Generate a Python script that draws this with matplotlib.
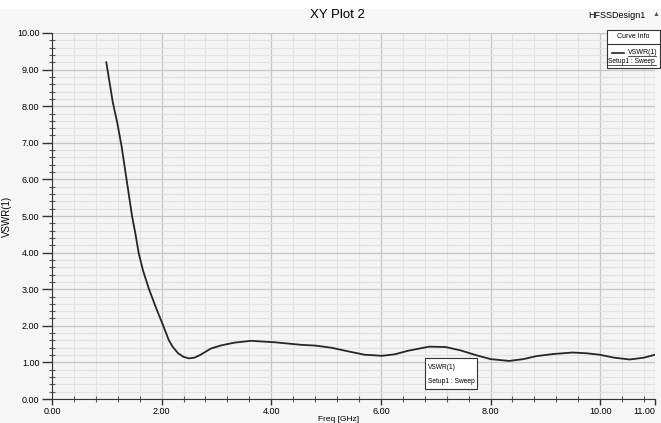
import matplotlib.pyplot as plt
from matplotlib.patches import Rectangle
from matplotlib.lines import Line2D
from matplotlib.ticker import MultipleLocator, FormatStrFormatter

plt.rcParams["font.family"] = ["Liberation Sans Narrow", "Liberation Sans", "DejaVu Sans"]

# VSWR(1)
freq_ghz = [0.99, 1.05, 1.11, 1.19, 1.27, 1.36, 1.41, 1.46, 1.52, 1.58, 1.66,
            1.77, 1.89, 2.03, 2.13, 2.20, 2.30, 2.40, 2.50, 2.60, 2.70, 2.90,
            3.10, 3.33, 3.63, 4.06, 4.55, 4.80, 5.10, 5.41, 5.70, 6.02, 6.25,
            6.50, 6.88, 7.18, 7.45, 7.73, 8.00, 8.34, 8.60, 8.83, 9.15, 9.50,
            9.75, 9.99, 10.25, 10.54, 10.80, 11.00]
vswr = [9.20, 8.65, 8.10, 7.55, 6.90, 6.00, 5.50, 5.00, 4.53, 4.00, 3.51,
        3.00, 2.52, 2.00, 1.61, 1.43, 1.25, 1.15, 1.11, 1.13, 1.20, 1.38,
        1.47, 1.54, 1.59, 1.55, 1.48, 1.46, 1.40, 1.30, 1.21, 1.18, 1.22,
        1.32, 1.43, 1.42, 1.33, 1.20, 1.09, 1.04, 1.09, 1.17, 1.23, 1.27,
        1.25, 1.21, 1.13, 1.08, 1.13, 1.21]

x_major = [0, 2, 4, 6, 8, 10, 11]

W, H = 661, 423


def fx(px):
    return px / W


def fy(py):
    return 1 - py / H


def main():
    fig = plt.figure(figsize=(6.61, 4.23), dpi=100, facecolor="#f6f6f6")
    fig.patches.append(Rectangle((0, fy(9)), 1, 9 / H, transform=fig.transFigure,
                                 facecolor="white", edgecolor="none"))
    ax = fig.add_axes([fx(52), fy(399), 603 / W, 366 / H])
    ax.set_facecolor("#f4f4f4")

    ax.plot(freq_ghz, vswr, color="#262626", linewidth=1.3,
            solid_joinstyle="round", zorder=3)

    ax.set_xlim(0, 11)
    ax.set_ylim(0, 10)
    ax.set_xticks(x_major)
    ax.xaxis.set_major_formatter(FormatStrFormatter("%.2f"))
    ax.xaxis.set_minor_locator(MultipleLocator(0.4))
    ax.yaxis.set_major_locator(MultipleLocator(1))
    ax.yaxis.set_major_formatter(FormatStrFormatter("%.2f"))
    ax.yaxis.set_minor_locator(MultipleLocator(0.2))

    ax.grid(which="major", color="#c6c6c6", linewidth=0.9)
    ax.grid(which="minor", color="#e2e2e2", linewidth=0.8)
    ax.set_axisbelow(True)

    ax.tick_params(axis="y", which="major", direction="out", length=7, width=1,
                   labelsize=6.5, color="#333333", pad=2)
    ax.tick_params(axis="x", which="major", direction="out", length=4, width=1,
                   labelsize=6.5, color="#333333", pad=2)
    ax.tick_params(which="minor", direction="inout", length=5, width=0.8,
                   color="#555555")
    ax.get_xticklabels()[-1].set_ha("right")
    for side in ["top", "right"]:
        ax.spines[side].set_visible(False)
    ax.spines["left"].set_color("#333333")
    ax.spines["bottom"].set_color("#333333")

    ax.set_xlabel("Freq [GHz]", fontsize=6, va="center")
    ax.xaxis.set_label_coords(0.475, -0.055)
    ax.set_ylabel("VSWR(1)", fontsize=7)
    ax.yaxis.set_label_coords(-0.066, 0.5)

    fig.text(fx(337), fy(15), "XY Plot 2", ha="center", va="center", fontsize=9.5)
    fig.text(fx(617), fy(16), "HFSSDesign1", ha="center", va="center", fontsize=6.5)
    fig.text(fx(656), fy(15), "\u25b2", ha="center", va="center", fontsize=5,
             color="#555555")

    # curve info box, top right
    fig.patches.append(Rectangle((fx(607), fy(68)), 53 / W, 38 / H,
                                 transform=fig.transFigure, facecolor="white",
                                 edgecolor="#333333", linewidth=0.8, zorder=5))
    fig.lines.append(Line2D([fx(607), fx(660)], [fy(44), fy(44)],
                            transform=fig.transFigure, color="#333333",
                            linewidth=0.8, zorder=6))
    fig.text(fx(633), fy(37), "Curve Info", ha="center", va="center",
             fontsize=5, zorder=7)
    fig.lines.append(Line2D([fx(612), fx(624)], [fy(53), fy(53)],
                            transform=fig.transFigure, color="#262626",
                            linewidth=1.2, zorder=6))
    fig.text(fx(628), fy(52.5), "VSWR(1)", ha="left", va="center",
             fontsize=5, zorder=7)
    fig.text(fx(608), fy(61.5), "Setup1 : Sweep", ha="left", va="center",
             fontsize=4.8, zorder=7)
    for x0, x1, yy in [(628, 656, 56.5), (608, 656, 65.5)]:
        fig.lines.append(Line2D([fx(x0), fx(x1)], [fy(yy), fy(yy)],
                                transform=fig.transFigure, color="#333333",
                                linewidth=0.6, zorder=6))

    # marker label under the curve
    ax.add_patch(Rectangle((6.8, 0.27), 0.95, 0.85, facecolor="white",
                           edgecolor="#333333", linewidth=0.8, zorder=4))
    ax.text(6.85, 0.86, "VSWR(1)", ha="left", va="center", fontsize=4.8, zorder=5)
    ax.text(6.85, 0.48, "Setup1 : Sweep", ha="left", va="center", fontsize=4.8,
            zorder=5)

    fig.savefig("out.png", dpi=100, facecolor=fig.get_facecolor())


if __name__ == "__main__":
    main()
